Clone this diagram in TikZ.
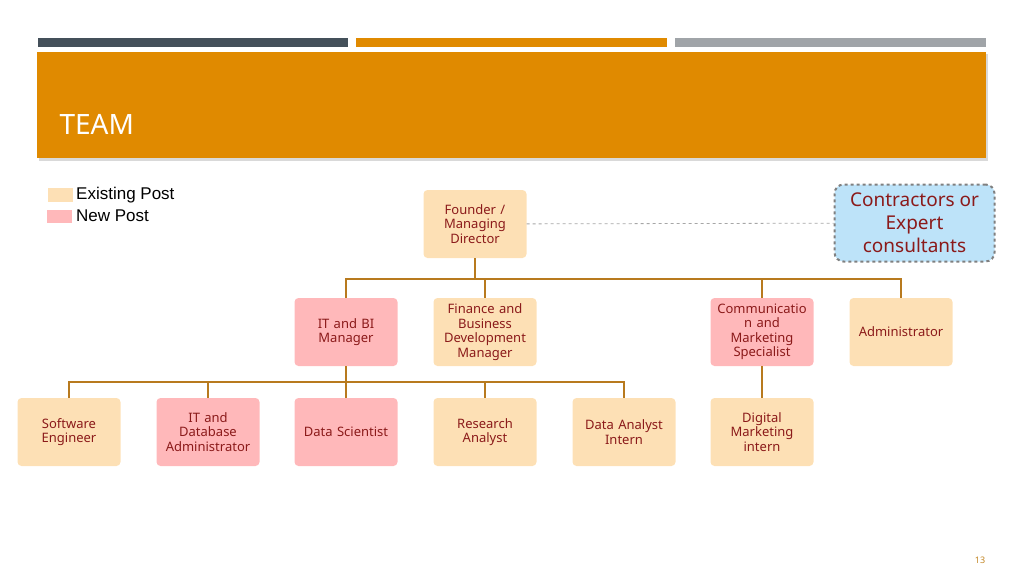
\documentclass[tikz,border=0pt]{standalone}
\usepackage{fontspec}
\setmainfont{Noto Sans}
\newfontfamily\legendfont{Liberation Sans}
\usetikzlibrary{positioning}
\definecolor{hdrorange}{HTML}{E08A00}
\definecolor{bardark}{HTML}{44505A}
\definecolor{bargrey}{HTML}{A0A4A8}
\definecolor{existing}{HTML}{FDE0B5}
\definecolor{newpost}{HTML}{FFB8BA}
\definecolor{contract}{HTML}{BDE3F9}
\definecolor{linkcol}{HTML}{B87A1E}
\definecolor{txtred}{HTML}{8B1A1A}
\tikzset{
	post/.style={rounded corners=4pt, minimum width=103pt, minimum height=68pt,
		text width=96pt, align=center, inner sep=0pt, text=txtred,
		font=\fontsize{13}{14.5}\selectfont},
	old/.style={post, fill=existing},
	new/.style={post, fill=newpost},
	link/.style={linkcol, line width=2.5pt},
}
\begin{document}
\begin{tikzpicture}[x=1pt,y=-1pt]
	\useasboundingbox (0,0) rectangle (1024,581);
	% header
	\fill[bardark] (38,38) rectangle (348,47);
	\fill[hdrorange] (356,38) rectangle (667,47);
	\fill[bargrey] (675,38) rectangle (986,47);
	\fill[black!15] (39,54) rectangle (988,161);
	\fill[hdrorange] (37,52) rectangle (986,158);
	\node[anchor=west, text=white, font=\fontsize{28}{30}\selectfont] (title) at (56,124) {TEAM};

	% legend
	\fill[existing] (48,188) rectangle (73,202);
	\fill[newpost] (47,210) rectangle (72,223);
	\node[anchor=west, inner sep=0pt, font=\legendfont\fontsize{17}{18}\selectfont] (lgold) at (76,195) {Existing Post};
	\node[anchor=west, inner sep=0pt, font=\legendfont\fontsize{17}{18}\selectfont] (lgnew) at (76,216) {New Post};

	% posts
	\node[old] (founder) at (475,224) {Founder /\\Managing\\Director};
	\node[rounded corners=9pt, fill=contract, draw=gray, dashed, line width=2pt,
		minimum width=160pt, minimum height=77pt, align=center, text=txtred,
		font=\fontsize{19}{23}\selectfont] (contractors) at (914.5,223) {Contractors or\\Expert\\consultants};

	\node[new] (itbi) at (346,332) {IT and BI\\Manager};
	\node[old] (finance) at (485,332) {Finance and\\Business\\Development\\Manager};
	\node[new] (comm) at (762,332) {Communicatio\\n and\\Marketing\\Specialist};
	\node[old] (admin) at (901,332) {Administrator};

	\node[old] (softeng) at (69,432) {Software\\Engineer};
	\node[new] (dbadmin) at (208,432) {IT and\\Database\\Administrator};
	\node[new] (datasci) at (346,432) {Data Scientist};
	\node[old] (research) at (485,432) {Research\\Analyst};
	\node[old] (intern) at (624,432) {Data Analyst\\Intern};
	\node[old] (digital) at (762,432) {Digital\\Marketing\\intern};

	\node[text=hdrorange!70!gray, font=\fontsize{9}{10}\selectfont] (pagenum) at (980,560) {13};

	% connectors
	\draw[gray!70, dashed, line width=0.8pt] (founder) -- (contractors);
	\coordinate (top) at (475,279);
	\draw[link] (founder) -- (top);
	\foreach \n in {itbi, finance, comm, admin}
		\draw[link] (top) -| (\n.north);
	\coordinate (mid) at (346,382);
	\draw[link] (itbi) -- (mid);
	\foreach \n in {softeng, dbadmin, datasci, research, intern}
		\draw[link] (mid) -| (\n.north);
	\draw[link] (comm) -- (digital);
\end{tikzpicture}
\end{document}
